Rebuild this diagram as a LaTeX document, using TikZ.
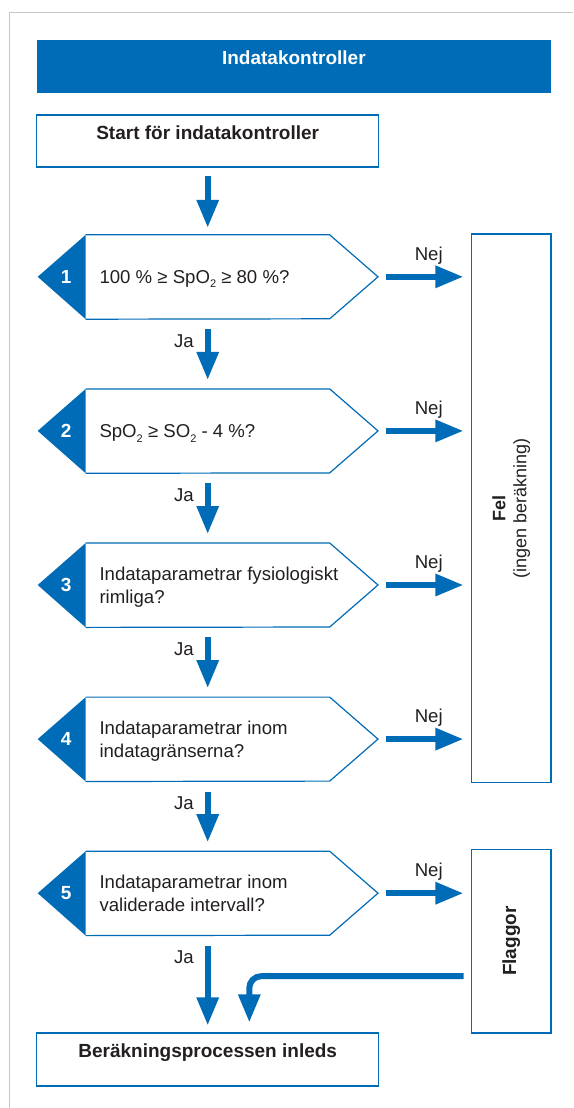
\documentclass[tikz,border=0pt]{standalone}
\usepackage{fontspec}
\setsansfont{Liberation Sans}
\usetikzlibrary{arrows.meta}
\definecolor{roche}{RGB}{0,107,183}
\definecolor{framegray}{RGB}{198,198,198}
\definecolor{ink}{RGB}{35,31,32}
\newcommand{\subtwo}{\raisebox{-4.5pt}{\fontsize{11}{11}\selectfont 2}}

\begin{document}
\begin{tikzpicture}[x=1pt,y=-1pt,font=\sffamily\fontsize{18.6}{23}\selectfont,text=ink,
  hd/.style={draw=roche,line width=1.2pt,minimum width=342pt,inner ysep=0pt,text height=24pt,text depth=28pt,font=\sffamily\bfseries\fontsize{19}{23}\selectfont},
  q/.style={anchor=west,minimum height=84pt,inner xsep=13.6pt,align=left,text depth=0pt},
  edge/.style={draw=roche,line width=1.2pt},
  num/.style={text=white,font=\sffamily\bfseries\fontsize{19}{23}\selectfont},
  side/.style={draw=roche,line width=1.2pt,minimum width=79.7pt},
  arr/.style={draw=roche,line width=6pt,-{Triangle[length=28pt,width=21pt]}},
  ja/.style={pos=0,anchor=north east,inner sep=2pt,xshift=-9pt,yshift=-10pt},
  nej/.style={midway,anchor=south,inner sep=2pt,xshift=4.4pt,yshift=7.8pt}]
  \useasboundingbox (0,0) rectangle (573,1108);
  \draw[framegray,line width=1.3pt] (573,12.7) -- (9.3,12.7) -- (9.3,1108);
  \node[fill=roche,minimum width=514.3pt,minimum height=53pt,inner ysep=0pt,text height=25pt,text depth=28pt,text=white,font=\sffamily\bfseries\fontsize{19}{23}\selectfont] (title) at (293.85,66.5) {Indatakontroller};
  \node[hd] (start) at (207.7,141) {Start för indatakontroller};
  % fragor
  \node[q] (d1) at (85.7,277) {100 \% ≥ SpO\subtwo{} ≥ 80 \%?};
  \node[q] (d2) at (85.7,431.1) {SpO\subtwo{} ≥ SO\subtwo{} - 4 \%?};
  \node[q] (d3) at (85.7,585.2) {Indataparametrar fysiologiskt\\rimliga?};
  \node[q] (d4) at (85.7,739.3) {Indataparametrar inom\\indatagränserna?};
  \node[q] (d5) at (85.7,893.4) {Indataparametrar inom\\validerade intervall?};
  \draw[edge] (d1.north west) -- ++(244,0) -- ++(48.3,42) coordinate (r1) -- ++(-48.3,42) -- (d1.south west);
  \draw[edge] (d2.north west) -- ++(244,0) -- ++(48.3,42) coordinate (r2) -- ++(-48.3,42) -- (d2.south west);
  \draw[edge] (d3.north west) -- ++(244,0) -- ++(48.3,42) coordinate (r3) -- ++(-48.3,42) -- (d3.south west);
  \draw[edge] (d4.north west) -- ++(244,0) -- ++(48.3,42) coordinate (r4) -- ++(-48.3,42) -- (d4.south west);
  \draw[edge] (d5.north west) -- ++(244,0) -- ++(48.3,42) coordinate (r5) -- ++(-48.3,42) -- (d5.south west);
  \fill[roche] (d1.north west) -- ++(-48,42) -- (d1.south west) -- cycle;
  \fill[roche] (d2.north west) -- ++(-48,42) -- (d2.south west) -- cycle;
  \fill[roche] (d3.north west) -- ++(-48,42) -- (d3.south west) -- cycle;
  \fill[roche] (d4.north west) -- ++(-48,42) -- (d4.south west) -- cycle;
  \fill[roche] (d5.north west) -- ++(-48,42) -- (d5.south west) -- cycle;
  \node[num] (n1) at ([xshift=-19.5pt]d1.west) {1};
  \node[num] (n2) at ([xshift=-19.5pt]d2.west) {2};
  \node[num] (n3) at ([xshift=-19.5pt]d3.west) {3};
  \node[num] (n4) at ([xshift=-19.5pt]d4.west) {4};
  \node[num] (n5) at ([xshift=-19.5pt]d5.west) {5};
  % utfall
  \node[side,minimum height=548.7pt] (fel) at (511.15,508.35) {};
  \node[rotate=90,align=center,font=\sffamily\fontsize{18}{21}\selectfont] (feltxt) at (fel.center) {\textbf{Fel}\\(ingen beräkning)};
  \node[side,minimum height=183.7pt] (flag) at (511.15,941.15) {};
  \node[rotate=90,font=\sffamily\bfseries\fontsize{19}{23}\selectfont] (flagtxt) at (flag.center) {Flaggor};
  \node[hd,text depth=29pt] (end) at (207.7,1059.5) {Beräkningsprocessen inleds};
  % pilar
  \draw[arr,shorten <=8pt,shorten >=7pt] (start) -- (d1.north -| start);
  \draw[arr,shorten <=10pt,shorten >=9pt] (d1.south -| start) -- (d2.north -| start) node[ja] (ja1) {Ja};
  \draw[arr,shorten <=10pt,shorten >=9pt] (d2.south -| start) -- (d3.north -| start) node[ja] (ja2) {Ja};
  \draw[arr,shorten <=10pt,shorten >=9pt] (d3.south -| start) -- (d4.north -| start) node[ja] (ja3) {Ja};
  \draw[arr,shorten <=10pt,shorten >=9pt] (d4.south -| start) -- (d5.north -| start) node[ja] (ja4) {Ja};
  \draw[arr,shorten <=10pt,shorten >=7pt] (d5.south -| start) -- (end) node[ja] (ja5) {Ja};
  \draw[arr,shorten <=7.7pt,shorten >=7.3pt] (r1) -- (r1 -| fel.west) node[nej] (nej1) {Nej};
  \draw[arr,shorten <=7.7pt,shorten >=7.3pt] (r2) -- (r2 -| fel.west) node[nej] (nej2) {Nej};
  \draw[arr,shorten <=7.7pt,shorten >=7.3pt] (r3) -- (r3 -| fel.west) node[nej] (nej3) {Nej};
  \draw[arr,shorten <=7.7pt,shorten >=7.3pt] (r4) -- (r4 -| fel.west) node[nej] (nej4) {Nej};
  \draw[arr,shorten <=7.7pt,shorten >=7.3pt] (r5) -- (r5 -| flag.west) node[nej] (nej5) {Nej};
  \draw[arr,rounded corners=12pt,shorten >=10pt] ([shift={(-7,35)}]flag.west) -| ([xshift=41.6pt]end.north);
\end{tikzpicture}
\end{document}
